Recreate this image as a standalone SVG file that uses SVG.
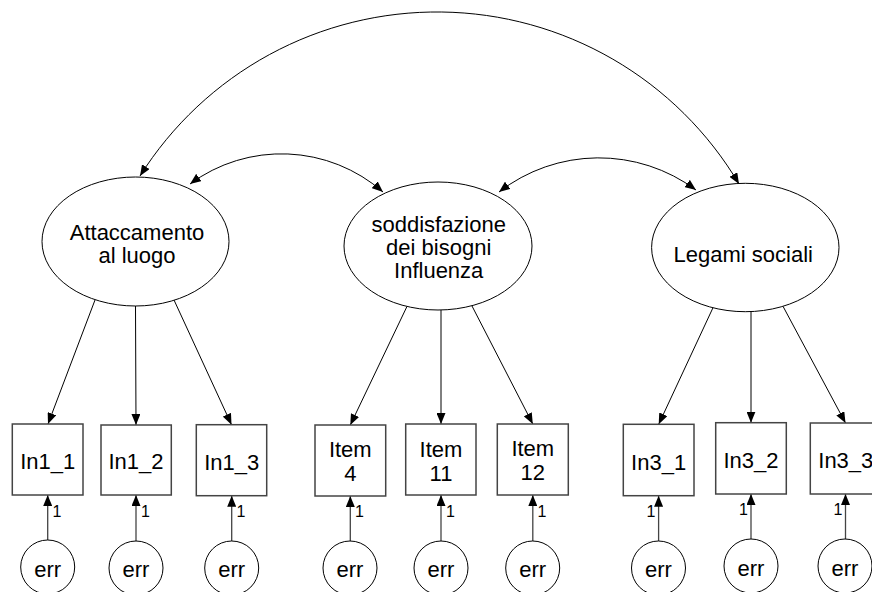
<svg xmlns="http://www.w3.org/2000/svg" width="872" height="592" viewBox="0 0 872 592">
<defs>
<marker id="ah" markerWidth="11" markerHeight="9" refX="11" refY="4.5" orient="auto-start-reverse" markerUnits="userSpaceOnUse"><path d="M0,0 L11,4.5 L0,9 z" fill="#000"/></marker>
<style>
.lat{fill:#fff;stroke:#000;stroke-width:1}
.obs{fill:#fff;stroke:#444;stroke-width:1.5}
.err{fill:#fff;stroke:#000;stroke-width:1}
.t{font-family:"Liberation Sans",Arial,sans-serif;font-size:22px;fill:#000;text-anchor:middle}
.one{font-family:"Liberation Sans",Arial,sans-serif;font-size:16px;fill:#000}
.ln{fill:none;stroke:#000;stroke-width:1;marker-end:url(#ah)}
.el{fill:none;stroke:#444;stroke-width:1.3;marker-end:url(#ah)}
.cov{fill:none;stroke:#000;stroke-width:1;marker-start:url(#ah);marker-end:url(#ah)}
</style>
</defs>
<rect width="872" height="592" fill="#fff"/>
<g id="connectors">
<path class="cov" d="M140,176 A351,351 0 0 1 739,184"/>
<path class="cov" d="M190,184 A154,154 0 0 1 383,192"/>
<path class="cov" d="M499,192 A163,163 0 0 1 696,190"/>
<line class="ln" x1="95" y1="300" x2="48" y2="424"/>
<line class="ln" x1="135.5" y1="306" x2="136" y2="425"/>
<line class="ln" x1="174" y1="300" x2="231.5" y2="424.7"/>
<line class="ln" x1="407" y1="306.4" x2="350.3" y2="425"/>
<line class="ln" x1="441" y1="310" x2="441" y2="424"/>
<line class="ln" x1="472" y1="306" x2="532.8" y2="424"/>
<line class="ln" x1="713" y1="307.7" x2="658.7" y2="424.3"/>
<line class="ln" x1="751" y1="311.6" x2="751" y2="422.7"/>
<line class="ln" x1="783" y1="306.3" x2="845.5" y2="423"/>
<line class="el" x1="47.7" y1="540" x2="47.7" y2="495"/>
<line class="el" x1="136" y1="541" x2="136" y2="495"/>
<line class="el" x1="231.7" y1="541" x2="231.7" y2="495.7"/>
<line class="el" x1="350.3" y1="541" x2="350.3" y2="496"/>
<line class="el" x1="441" y1="541" x2="441" y2="495"/>
<line class="el" x1="532.8" y1="541" x2="532.8" y2="495"/>
<line class="el" x1="658.6" y1="541" x2="658.6" y2="495.7"/>
<line class="el" x1="751" y1="539" x2="751" y2="494"/>
<line class="el" x1="845.5" y1="539" x2="845.5" y2="494"/>
<text class="one" x="52.5" y="517">1</text>
<text class="one" x="141" y="517">1</text>
<text class="one" x="236.5" y="517">1</text>
<text class="one" x="355" y="517">1</text>
<text class="one" x="446" y="517">1</text>
<text class="one" x="537.5" y="517">1</text>
<text class="one" x="646.6" y="517">1</text>
<text class="one" x="739" y="515">1</text>
<text class="one" x="833.5" y="515">1</text>
</g>
<g id="attaccamento">
<ellipse class="lat" cx="135.5" cy="241.5" rx="93.5" ry="64.5"/>
<text class="t" x="137" y="240">Attaccamento</text>
<text class="t" x="137" y="263">al luogo</text>
</g>
<g id="soddisfazione">
<ellipse class="lat" cx="438" cy="246" rx="94" ry="64"/>
<text class="t" x="438.7" y="232">soddisfazione</text>
<text class="t" x="438.7" y="255">dei bisogni</text>
<text class="t" x="438.7" y="278">Influenza</text>
</g>
<g id="legami">
<ellipse class="lat" cx="745.3" cy="247.5" rx="93.7" ry="64.2"/>
<text class="t" x="743.3" y="261.7">Legami sociali</text>
</g>
<g id="In1_1"><rect class="obs" x="12.3" y="424" width="70.7" height="71"/><text class="t" x="47.7" y="469">In1_1</text></g>
<g id="In1_2"><rect class="obs" x="101" y="425" width="70.3" height="70"/><text class="t" x="136" y="469">In1_2</text></g>
<g id="In1_3"><rect class="obs" x="196.3" y="424.7" width="70.4" height="71"/><text class="t" x="231.7" y="469.5">In1_3</text></g>
<g id="Item4"><rect class="obs" x="315" y="425" width="70.7" height="71"/><text class="t" x="350.3" y="457">Item</text><text class="t" x="350.3" y="481">4</text></g>
<g id="Item11"><rect class="obs" x="405.7" y="424" width="70.3" height="71"/><text class="t" x="441" y="457">Item</text><text class="t" x="441" y="481">11</text></g>
<g id="Item12"><rect class="obs" x="497.3" y="424" width="71" height="71"/><text class="t" x="532.8" y="456">Item</text><text class="t" x="532.8" y="480">12</text></g>
<g id="In3_1"><rect class="obs" x="623.3" y="424.3" width="70.7" height="71.4"/><text class="t" x="658.6" y="470">In3_1</text></g>
<g id="In3_2"><rect class="obs" x="715.7" y="422.7" width="70.6" height="71.3"/><text class="t" x="751" y="468.3">In3_2</text></g>
<g id="In3_3"><rect class="obs" x="810.3" y="423" width="71" height="71"/><text class="t" x="845.8" y="468.3">In3_3</text></g>
<g id="err1"><circle class="err" cx="47.7" cy="567" r="27"/><text class="t" x="47.7" y="577">err</text></g>
<g id="err2"><circle class="err" cx="136" cy="568" r="27"/><text class="t" x="136" y="577">err</text></g>
<g id="err3"><circle class="err" cx="231.7" cy="568" r="27"/><text class="t" x="231.7" y="577">err</text></g>
<g id="err4"><circle class="err" cx="350" cy="568" r="27"/><text class="t" x="350" y="577">err</text></g>
<g id="err5"><circle class="err" cx="441" cy="568" r="27"/><text class="t" x="441" y="577">err</text></g>
<g id="err6"><circle class="err" cx="532.7" cy="568" r="27"/><text class="t" x="532.7" y="577">err</text></g>
<g id="err7"><circle class="err" cx="658.5" cy="568" r="27"/><text class="t" x="658.5" y="577">err</text></g>
<g id="err8"><circle class="err" cx="751" cy="566" r="27"/><text class="t" x="751" y="576">err</text></g>
<g id="err9"><circle class="err" cx="845" cy="566" r="27"/><text class="t" x="845" y="576">err</text></g>
</svg>
